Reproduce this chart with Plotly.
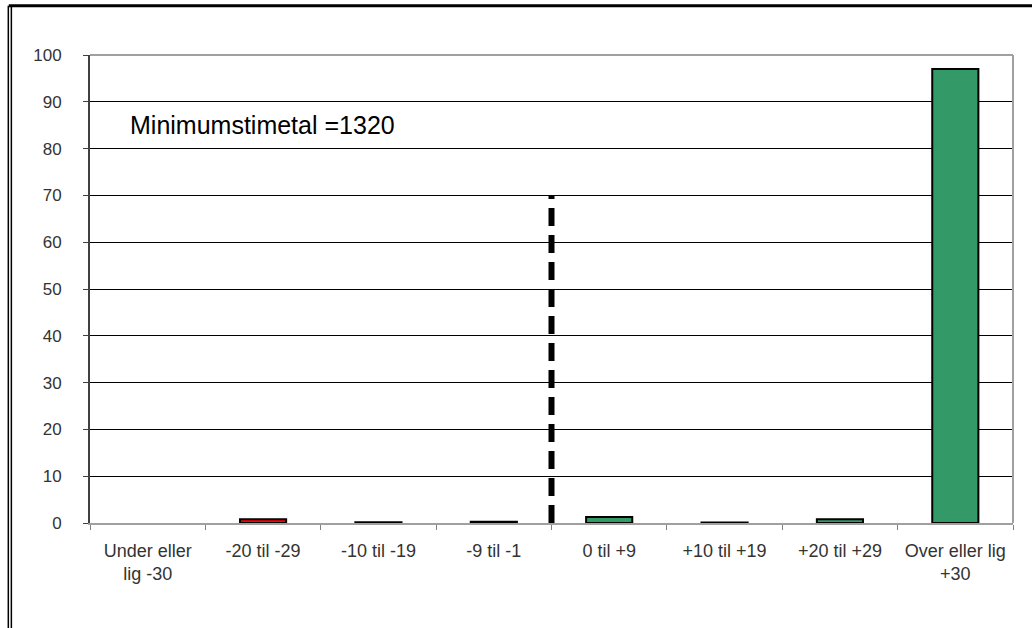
import plotly.graph_objects as go

categories = ["Under eller<br>lig -30", "-20 til -29", "-10 til -19", "-9 til -1",
              "0 til +9", "+10 til +19", "+20 til +29", "Over eller lig<br>+30"]
values = [0.0, 0.8, 0.15, 0.25, 1.3, 0.1, 0.8, 97.0]
bar_colors = ["#339966", "#FF0000", "#000000", "#000000",
              "#339966", "#000000", "#339966", "#339966"]
y_ticks = [0, 10, 20, 30, 40, 50, 60, 70, 80, 90, 100]
threshold_pos = 3.5
threshold_height = 70
annotation_text = "Minimumstimetal =1320"

FONT = "Liberation Sans, Arial, sans-serif"

line_widths = [0 if v == 0 else 2 for v in values]

fig = go.Figure()
fig.add_trace(go.Bar(
    x=categories, y=values, width=0.4,
    marker=dict(color=bar_colors, line=dict(color="#000000", width=line_widths)),
    showlegend=False,
))

fig.add_shape(type="line", xref="x", yref="y",
              x0=threshold_pos, x1=threshold_pos, y0=0, y1=threshold_height,
              line=dict(color="#000000", width=6, dash="18px,9px"))

fig.add_annotation(x=0.041, y=85, xref="paper", yref="y", text=annotation_text,
                   showarrow=False, xanchor="left", yanchor="middle",
                   font=dict(family=FONT, size=25, color="#000000"))

# outer frame lines
fig.add_shape(type="line", xref="paper", yref="paper", x0=-0.088, x1=1.03, y0=1.105, y1=1.105,
              line=dict(color="#000000", width=3))
fig.add_shape(type="line", xref="paper", yref="paper", x0=-0.0885, x1=-0.0885, y0=-0.25, y1=1.105,
              line=dict(color="#000000", width=1.5))
fig.add_shape(type="line", xref="paper", yref="paper", x0=-0.0852, x1=-0.0852, y0=-0.25, y1=1.105,
              line=dict(color="#000000", width=1.5))

fig.update_layout(
    width=1032, height=628,
    margin=dict(l=90, r=19, t=55, b=105),
    plot_bgcolor="#FFFFFF", paper_bgcolor="#FFFFFF",
    bargap=0.6,
    font=dict(family=FONT, size=16, color="#222222"),
)
fig.update_xaxes(
    type="category", tickson="boundaries", ticks="outside", ticklen=5,
    tickcolor="#808080", showline=True, linecolor="#A0A0A0", linewidth=2,
    mirror=False, showgrid=False, ticklabelstandoff=10,
    tickfont=dict(family=FONT, size=18, color="#333333"),
)
fig.update_yaxes(
    range=[0, 100], tickvals=y_ticks, ticks="outside", ticklen=5,
    tickcolor="#404040", showline=True, linecolor="#404040", linewidth=2,
    showgrid=True, gridcolor="#000000", gridwidth=1, zeroline=False,
    ticklabelstandoff=18,
    tickfont=dict(family=FONT, size=17, color="#333333"),
)
# plot-area top and right border (gray)
fig.add_shape(type="line", xref="paper", yref="paper", x0=0, x1=1, y0=1, y1=1,
              line=dict(color="#A0A0A0", width=2))
fig.add_shape(type="line", xref="paper", yref="paper", x0=1, x1=1, y0=0, y1=1,
              line=dict(color="#A0A0A0", width=2))

fig.write_html("out.html", config={"displayModeBar": False},
               post_script="document.body.style.margin='0px';")
